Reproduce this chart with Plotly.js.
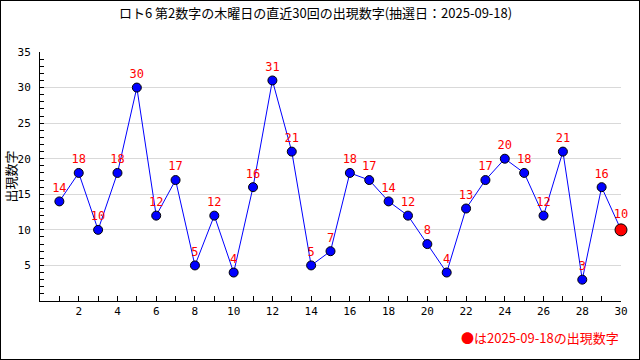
<!DOCTYPE html>
<html>
<head>
<meta charset="utf-8">
<script src="https://cdn.plot.ly/plotly-3.0.1.min.js"></script>
<style>
html,body{margin:0;padding:0;background:#fff;}
#chart{width:638px;height:358px;border:1px solid #000;}
</style>
</head>
<body>
<div id="chart"></div>
<script>
const titleText = "ロト6 第2数字の木曜日の直近30回の出現数字(抽選日：2025-09-18)";
const yTitle = "出現数字";
const noteText = "●は2025-09-18の出現数字";
const draws = [1,2,3,4,5,6,7,8,9,10,11,12,13,14,15,16,17,18,19,20,21,22,23,24,25,26,27,28,29,30];
const values = [14,18,10,18,30,12,17,5,12,4,16,31,21,5,7,18,17,14,12,8,4,13,17,20,18,12,21,3,16,10];
const xTickVals = [2,4,6,8,10,12,14,16,18,20,22,24,26,28,30];
const yTickVals = [5,10,15,20,25,30,35];

const last = values.length - 1;
const mColors = values.map((v,i) => i === last ? '#ff0000' : '#0000ff');
const mSizes = values.map((v,i) => i === last ? 12 : 9);

const mono = '"DejaVu Sans Mono", monospace';
const cjk = '"Noto Sans CJK JP", sans-serif';

const trace = {
  x: draws, y: values,
  type: 'scatter',
  mode: 'lines+markers+text',
  text: values.map(String),
  textposition: 'top center',
  textfont: {family: mono, size: 12, color: '#ff0000'},
  line: {color: '#0000ff', width: 1},
  marker: {color: mColors, size: mSizes, opacity: 1, line: {color: '#000', width: 1}},
  opacity: 1,
  cliponaxis: false,
  hoverinfo: 'skip'
};

const layout = {
  width: 638, height: 358,
  margin: {l: 39, r: 18, t: 51, b: 58},
  paper_bgcolor: '#fff', plot_bgcolor: '#fff',
  showlegend: false,
  title: {text: titleText, font: {family: cjk, size: 13, color: '#000'}, x: 0.493, xanchor: 'center', y: 0.965, yanchor: 'middle'},
  xaxis: {
    range: [0, 30], tickvals: xTickVals, ticktext: xTickVals.map(String),
    ticks: 'inside', ticklen: 5, tickcolor: '#000', tickwidth: 1,
    showline: true, linecolor: '#000', linewidth: 1,
    showgrid: false, zeroline: false,
    tickfont: {family: mono, size: 11, color: '#000'},
    minor: {dtick: 1, tick0: 0, ticks: 'inside', ticklen: 5, tickcolor: '#000', showgrid: false},
    fixedrange: true
  },
  yaxis: {
    range: [0, 35], tickvals: yTickVals, ticktext: yTickVals.map(String),
    ticks: 'inside', ticklen: 4, tickcolor: '#000', tickwidth: 1,
    showline: true, linecolor: '#000', linewidth: 1,
    showgrid: true, gridcolor: '#d9d9d9', gridwidth: 1, zeroline: false,
    tickfont: {family: mono, size: 11, color: '#000'},
    ticklabelstandoff: 6,
    minor: {dtick: 1, tick0: 0, ticks: 'inside', ticklen: 4, tickcolor: '#000', showgrid: false},
    fixedrange: true
  },
  annotations: [{
    xref: 'paper', yref: 'paper', x: 1.0, y: -0.145,
    xanchor: 'right', yanchor: 'middle',
    text: noteText, showarrow: false,
    font: {family: cjk, size: 13, color: '#ff0000'}
  }, {
    xref: 'paper', yref: 'paper', x: -0.05, y: 0.5,
    xanchor: 'center', yanchor: 'middle', textangle: -90,
    text: yTitle, showarrow: false,
    font: {family: cjk, size: 13, color: '#000'}
  }]
};

Plotly.newPlot('chart', [trace], layout, {displayModeBar: false, staticPlot: true});
</script>
</body>
</html>
